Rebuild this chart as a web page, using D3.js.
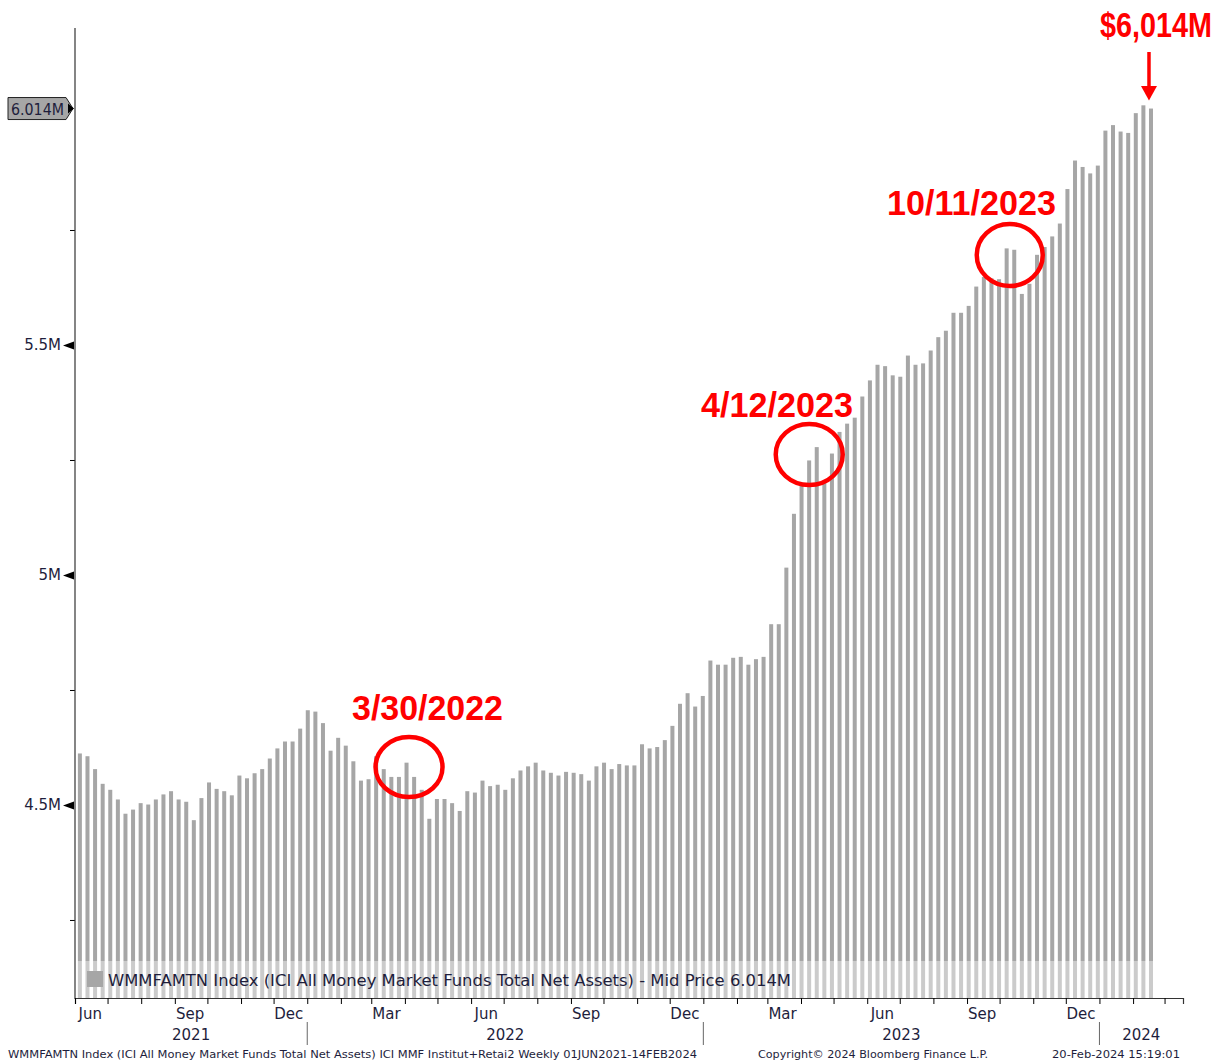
<!DOCTYPE html>
<html>
<head>
<meta charset="utf-8">
<script src="https://cdn.jsdelivr.net/npm/d3@7"></script>
<style>
  html, body { margin: 0; padding: 0; background: #fff; }
  svg { display: block; }
</style>
</head>
<body>
<svg id="chart" width="1216" height="1062"></svg>
<script>
// ---- Data (weekly, 01JUN2021 - 14FEB2024) ----
const startDate = "2021-06-02";
const values = [
  4.612, 4.606, 4.578, 4.546, 4.533, 4.512, 4.481, 4.490, 4.504, 4.501,
  4.512, 4.523, 4.530, 4.512, 4.507, 4.467, 4.515, 4.549, 4.535, 4.530,
  4.521, 4.564, 4.558, 4.569, 4.578, 4.601, 4.623, 4.638, 4.638, 4.666,
  4.706, 4.703, 4.678, 4.618, 4.646, 4.629, 4.595, 4.553, 4.556, 4.606,
  4.578, 4.561, 4.561, 4.592, 4.561, 4.533, 4.470, 4.513, 4.513, 4.504,
  4.487, 4.530, 4.527, 4.553, 4.541, 4.544, 4.533, 4.558, 4.575, 4.584,
  4.592, 4.575, 4.570, 4.564, 4.572, 4.570, 4.567, 4.553, 4.584, 4.592,
  4.578, 4.589, 4.586, 4.586, 4.632, 4.623, 4.626, 4.641, 4.672, 4.720,
  4.743, 4.714, 4.737, 4.814, 4.805, 4.805, 4.820, 4.822, 4.805, 4.817,
  4.822, 4.893, 4.893, 5.016, 5.133, 5.200, 5.249, 5.278, 5.205, 5.264,
  5.311, 5.329, 5.342, 5.388, 5.423, 5.457, 5.454, 5.434, 5.431, 5.477,
  5.457, 5.460, 5.488, 5.517, 5.531, 5.570, 5.570, 5.585, 5.627, 5.648,
  5.645, 5.643, 5.710, 5.707, 5.611, 5.633, 5.696, 5.713, 5.736, 5.764,
  5.839, 5.901, 5.887, 5.873, 5.890, 5.966, 5.978, 5.964, 5.961, 6.004,
  6.021, 6.014
];
const yMajorTicks = [4.5, 5.0, 5.5];
const yMajorLabels = ["4.5M", "5M", "5.5M"];
const yMinorTicks = [4.25, 4.75, 5.25, 5.75];
const quarterMonths = ["Mar", "Jun", "Sep", "Dec"];
const yearLabels = ["2021", "2022", "2023", "2024"];
const annotations = [
  { label: "3/30/2022", date: "2022-03-30" },
  { label: "4/12/2023", date: "2023-04-12" },
  { label: "10/11/2023", date: "2023-10-11" }
];
const lastLabel = "6.014M";
const headline = "$6,014M";
const legendText = "WMMFAMTN Index (ICI All Money Market Funds Total Net Assets) - Mid Price 6.014M";
const footerLeft = "WMMFAMTN Index (ICI All Money Market Funds Total Net Assets) ICI MMF Institut+Retai2  Weekly 01JUN2021-14FEB2024";
const footerMid = "Copyright\u00A9 2024 Bloomberg Finance L.P.";
const footerRight = "20-Feb-2024 15:19:01";

// ---- Layout ----
const parse = d3.utcParse("%Y-%m-%d");
const t0 = parse(startDate);
const data = values.map((v, i) => ({ date: d3.utcDay.offset(t0, 7 * i), value: v }));

const plot = { left: 75, right: 1183, top: 28, bottom: 998 };
const x = d3.scaleUtc()
  .domain([parse("2021-06-01"), parse("2024-03-18")])
  .range([plot.left, plot.right]);
const y = d3.scaleLinear()
  .domain([4.0804, 6.1891])
  .range([plot.bottom, plot.top]);

const svg = d3.select("#chart");
const FONT = "'DejaVu Sans', Verdana, sans-serif";
const BAR = "#a6a6a6";

// ---- Bars ----
const halfWeek = 3.5 * 24 * 3600 * 1000;
const barW = 4;
svg.append("g").selectAll("rect").data(data).join("rect")
  .attr("x", d => x(new Date(+d.date + halfWeek)) - barW / 2)
  .attr("y", d => y(d.value))
  .attr("width", barW)
  .attr("height", d => plot.bottom - y(d.value))
  .attr("fill", BAR);

// ---- Legend (semi-transparent over bars) ----
const lg = svg.append("g");
lg.append("rect").attr("x", plot.left + 1).attr("y", 961).attr("width", plot.right - plot.left - 1).attr("height", plot.bottom - 961)
  .attr("fill", "#fff").attr("opacity", 0.42);
lg.append("rect").attr("x", 87).attr("y", 971).attr("width", 16).attr("height", 16).attr("fill", BAR);
lg.append("text").attr("x", 108).attr("y", 986).text(legendText)
  .attr("font-family", FONT).attr("font-size", 16).attr("fill", "#1e1e3c")
  .attr("textLength", 683).attr("lengthAdjust", "spacingAndGlyphs");

// ---- Y axis ----
const yAxisG = svg.append("g").attr("transform", `translate(${plot.left},0)`)
  .call(d3.axisLeft(y).tickValues(yMinorTicks).tickSize(5).tickFormat(""));
yAxisG.select(".domain").remove();
yAxisG.selectAll(".tick line").attr("stroke", "#000");

const yMajG = svg.append("g").attr("transform", `translate(${plot.left},0)`)
  .call(d3.axisLeft(y).tickValues(yMajorTicks).tickSize(0).tickPadding(14)
    .tickFormat((d, i) => yMajorLabels[i]));
yMajG.select(".domain").remove();
yMajG.selectAll(".tick text").attr("font-family", FONT).attr("font-size", 15).attr("fill", "#1e1e3c");
yMajG.selectAll(".tick").append("path").attr("d", "M-12,0L-1,-4L-1,4Z").attr("fill", "#000");

svg.append("line").attr("x1", plot.left).attr("x2", plot.left).attr("y1", plot.top).attr("y2", plot.bottom + 1)
  .attr("stroke", "#333").attr("stroke-width", 1.2);

// Last price tag
const lastV = values[values.length - 1];
const ly = y(lastV);
svg.append("path")
  .attr("d", `M8,${ly - 11}L66,${ly - 11}L73,${ly}L66,${ly + 11}L8,${ly + 11}Z`)
  .attr("fill", BAR).attr("stroke", "#222").attr("stroke-width", 1);
svg.append("path").attr("d", `M68,${ly - 5}L74,${ly}L68,${ly + 5}Z`).attr("fill", "#000");
svg.append("text").attr("x", 11).attr("y", ly + 6).text(lastLabel)
  .attr("font-family", FONT).attr("font-size", 15).attr("fill", "#1e1e3c")
  .attr("textLength", 53).attr("lengthAdjust", "spacingAndGlyphs");

// ---- X axis ----
const xAxisG = svg.append("g").attr("transform", `translate(0,${plot.bottom})`)
  .call(d3.axisBottom(x).ticks(d3.utcMonth.every(1)).tickSize(6).tickFormat(""));
xAxisG.select(".domain").attr("stroke", "#333").attr("stroke-width", 1.2);
xAxisG.selectAll(".tick line").attr("stroke", "#000");

// Month labels (mid-month, quarterly)
const months = d3.utcMonth.range(parse("2021-06-01"), parse("2024-01-01"))
  .filter(m => quarterMonths.includes(d3.utcFormat("%b")(m)));
svg.append("g").selectAll("text").data(months).join("text")
  .attr("x", d => x(d3.utcDay.offset(d, 14)))
  .attr("y", 1019)
  .attr("text-anchor", "middle")
  .attr("font-family", FONT).attr("font-size", 15).attr("fill", "#1e1e3c")
  .text(d => d3.utcFormat("%b")(d));

// Year labels and separators
const yearStarts = [parse("2021-06-01"), parse("2022-01-01"), parse("2023-01-01"), parse("2024-01-01")];
const yearEnds = [parse("2022-01-01"), parse("2023-01-01"), parse("2024-01-01"), x.domain()[1]];
svg.append("g").selectAll("text").data(yearLabels).join("text")
  .attr("x", (d, i) => (x(yearStarts[i]) + x(yearEnds[i])) / 2)
  .attr("y", 1040)
  .attr("text-anchor", "middle")
  .attr("font-family", FONT).attr("font-size", 15).attr("fill", "#1e1e3c")
  .text(d => d);
svg.append("g").selectAll("line").data(yearStarts.slice(1)).join("line")
  .attr("x1", d => x(d)).attr("x2", d => x(d))
  .attr("y1", 1022).attr("y2", 1045)
  .attr("stroke", "#666").attr("stroke-width", 1);

// ---- Annotations ----
const RED = "#ff0000";
const ANN_FONT = "'Liberation Sans', Arial, sans-serif";
const annLayout = [
  { tx: 352, ty: 720, tw: 151, dx: 2.5, rx: 33.5, ry: 30, cy: 767 },
  { tx: 701, ty: 417, tw: 152, dx: -7.5, rx: 33.5, ry: 30.5, cy: 454.5 },
  { tx: 887, ty: 215, tw: 169, dx: -4.5, rx: 33, ry: 31, cy: 255 }
];
annotations.forEach((a, i) => {
  const L = annLayout[i];
  const cx = x(new Date(+parse(a.date) + halfWeek)) + L.dx;
  svg.append("ellipse").attr("cx", cx).attr("cy", L.cy).attr("rx", L.rx).attr("ry", L.ry)
    .attr("fill", "none").attr("stroke", RED).attr("stroke-width", 4.5);
  svg.append("text").attr("x", L.tx).attr("y", L.ty).text(a.label)
    .attr("font-family", ANN_FONT).attr("font-weight", "bold").attr("font-size", 35).attr("fill", RED)
    .attr("textLength", L.tw).attr("lengthAdjust", "spacingAndGlyphs");
});

// Headline (condensed look via vertical stretch) + arrow
const lastX = x(new Date(+data[data.length - 1].date + halfWeek)) - 2;
svg.append("text").attr("transform", "translate(1100,37) scale(1,1.19)").text(headline)
  .attr("font-family", ANN_FONT).attr("font-weight", "bold").attr("font-size", 29.5).attr("fill", RED)
  .attr("textLength", 112).attr("lengthAdjust", "spacingAndGlyphs");
svg.append("line").attr("x1", lastX).attr("x2", lastX).attr("y1", 52).attr("y2", 88)
  .attr("stroke", RED).attr("stroke-width", 3.5);
svg.append("path").attr("d", `M${lastX - 8},86L${lastX + 8},86L${lastX},${y(lastV) - 8}Z`).attr("fill", RED);

// ---- Footer ----
const foot = svg.append("g").attr("font-family", FONT).attr("font-size", 11).attr("fill", "#1e1e3c");
foot.append("text").attr("x", 8).attr("y", 1058).text(footerLeft)
  .attr("textLength", 689).attr("lengthAdjust", "spacingAndGlyphs");
foot.append("text").attr("x", 758).attr("y", 1058).text(footerMid)
  .attr("textLength", 230).attr("lengthAdjust", "spacingAndGlyphs");
foot.append("text").attr("x", 1052).attr("y", 1058).text(footerRight)
  .attr("textLength", 128).attr("lengthAdjust", "spacingAndGlyphs");
</script>
</body>
</html>
